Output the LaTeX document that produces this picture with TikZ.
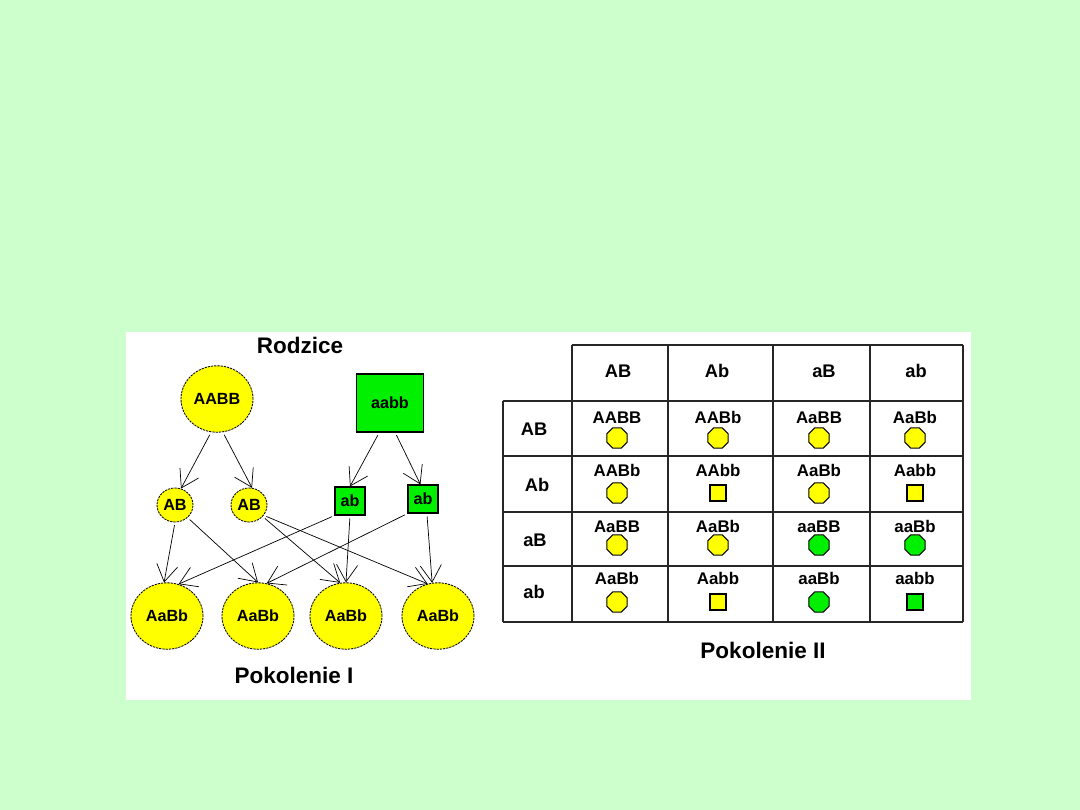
\documentclass[tikz,border=0pt]{standalone}
\usepackage{fontspec}
\setmainfont{Liberation Sans}
\usepackage{tikz}
\usetikzlibrary{shapes.geometric, arrows.meta, positioning}
\definecolor{bggreen}{HTML}{CCFFCC}
\definecolor{genyellow}{HTML}{FFFF00}
\definecolor{gengreen}{HTML}{00F000}

\begin{document}
\begin{tikzpicture}[
    x=0.025cm, y=-0.025cm,
    bigcirc/.style={ellipse, draw, dash pattern=on 1.6pt off 0.7pt, line width=0.6pt, fill=genyellow, minimum width=1.8cm, minimum height=1.66cm, inner sep=0pt, font=\fontsize{11.5}{13}\selectfont\bfseries},
    smallcirc/.style={bigcirc, minimum width=0.9cm, minimum height=0.85cm},
    bigsq/.style={rectangle, draw, line width=0.8pt, fill=gengreen, minimum width=1.675cm, minimum height=1.45cm, inner sep=0pt, font=\fontsize{11.5}{13}\selectfont\bfseries},
    smallsq/.style={bigsq, minimum width=0.75cm, minimum height=0.7cm},
    title/.style={font=\fontsize{16}{18}\selectfont\bfseries},
    head/.style={anchor=base, font=\fontsize{13}{15}\selectfont\bfseries},
    celltext/.style={anchor=base, inner sep=0pt, font=\fontsize{12}{14}\selectfont\bfseries},
    octsym/.style={regular polygon, regular polygon sides=8, draw, line width=0.7pt, minimum size=0.55cm, inner sep=0pt},
    sqsym/.style={rectangle, draw, line width=0.8pt, minimum size=0.4cm, inner sep=0pt},
    arr/.style={-{Straight Barb[length=12pt, width=15pt]}, line width=0.5pt, shorten <=2pt}
]
    % Background
    \useasboundingbox[fill=bggreen] (0,0) rectangle (1080,810);
    \fill[white] (126,332) rectangle (971,700);

    % Parents
    \node[title] (rodzice) at (300,345) {Rodzice};
    \node[bigcirc] (p1) at (217,399) {AABB};
    \node[bigsq] (p2) at (390,403) {aabb};

    % Gametes
    \node[smallcirc] (gA1) at (175,505) {AB};
    \node[smallcirc] (gA2) at (249,505) {AB};
    \node[smallsq] (ga1) at (350,501) {ab};
    \node[smallsq] (ga2) at (423,499) {ab};

    % Offspring
    \node[bigcirc] (f1) at (167,616) {AaBb};
    \node[bigcirc] (f2) at (258,616) {AaBb};
    \node[bigcirc] (f3) at (346,616) {AaBb};
    \node[bigcirc] (f4) at (438,616) {AaBb};
    \node[title] (pok1) at (294,675) {Pokolenie I};

    % Connections
    \draw[arr] (p1.260) -- (gA1.70);
    \draw[arr] (p1.280) -- (gA2.80);
    \draw[arr] (p2.250) -- (ga1.north);
    \draw[arr] (p2.280) -- (ga2.100);

    \draw[arr] (gA1.south) -- (f1.95);
    \draw[arr] (gA1.-45) -- (f2.north);
    \draw[arr] (gA2.-40) -- (f3.100);
    \draw[arr] (gA2.-35) -- (f4.108);
    \draw[arr] (ga1.south west) -- (f1.70);
    \draw[arr] (ga1.south) -- (f3.north);
    \draw[arr] (ga2.south west) -- (f2.75);
    \draw[arr] (ga2.-75) -- (f4.100);

    % Punnett grid
    \begin{scope}[line width=1.2pt, black!85]
        \foreach \x in {572,668,773,870,963}
            \draw (\x,345) -- (\x,622);
        \draw (503,401) -- (503,622);
        \draw (572,345) -- (963,345);
        \foreach \y in {401,456,512,566,622}
            \draw (503,\y) -- (963,\y);
    \end{scope}

    % Column and row headers
    \node[head] (c1) at (618,377) {AB};
    \node[head] (c2) at (717,377) {Ab};
    \node[head] (c3) at (824,377) {aB};
    \node[head] (c4) at (916,377) {ab};
    \node[head] (r1) at (534,435) {AB};
    \node[head] (r2) at (537,491) {Ab};
    \node[head] (r3) at (535,546) {aB};
    \node[head] (r4) at (534,598) {ab};

    % Cells
    \foreach \gt/\r/\c/\shp/\clr in {
        AABB/1/1/octsym/genyellow, AABb/1/2/octsym/genyellow, AaBB/1/3/octsym/genyellow, AaBb/1/4/octsym/genyellow,
        AABb/2/1/octsym/genyellow, AAbb/2/2/sqsym/genyellow, AaBb/2/3/octsym/genyellow, Aabb/2/4/sqsym/genyellow,
        AaBB/3/1/octsym/genyellow, AaBb/3/2/octsym/genyellow, aaBB/3/3/octsym/gengreen, aaBb/3/4/octsym/gengreen,
        AaBb/4/1/octsym/genyellow, Aabb/4/2/sqsym/genyellow, aaBb/4/3/octsym/gengreen, aabb/4/4/sqsym/gengreen} {
        \pgfmathsetmacro{\cx}{{617,718,819,915}[\c-1]}
        \pgfmathsetmacro{\ty}{{423,476,532,584}[\r-1]}
        \pgfmathsetmacro{\sy}{{438,493,545,602}[\r-1]}
        \node[celltext] (g\r\c) at (\cx,\ty) {\gt};
        \node[\shp, fill=\clr] (s\r\c) at (\cx,\sy) {};
    }

    \node[title] (pok2) at (763,650) {Pokolenie II};
\end{tikzpicture}
\end{document}
